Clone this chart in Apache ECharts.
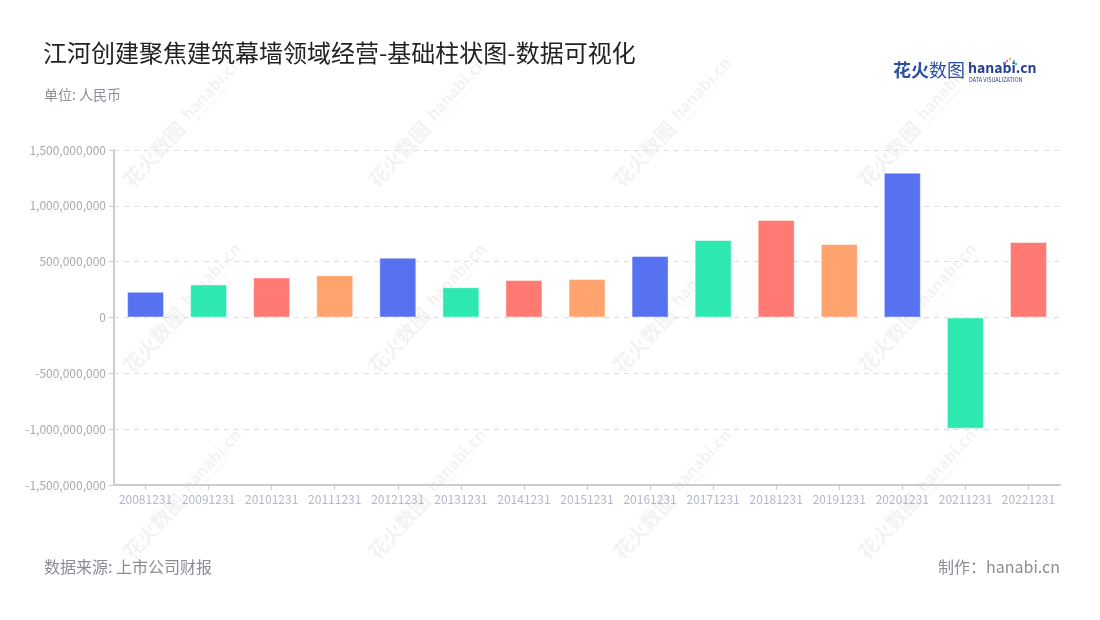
<!DOCTYPE html>
<html>
<head>
<meta charset="utf-8">
<script src="https://cdn.jsdelivr.net/npm/echarts@6/dist/echarts.min.js"></script>
<style>html,body{margin:0;padding:0;background:#fff;}#c{width:1100px;height:620px;}</style>
</head>
<body>
<div id="c"></div>
<script>
const categories = ['20081231','20091231','20101231','20111231','20121231','20131231','20141231','20151231','20161231','20171231','20181231','20191231','20201231','20211231','20221231'];
const values = [230000000, 296000000, 359000000, 379000000, 536000000, 271000000, 335000000, 344000000, 551000000, 694000000, 873000000, 658000000, 1297000000, -996000000, 676000000];
const palette = ['#5672F0', '#2EE8B2', '#FF7A72', '#FFA46F'];
const titleText = '江河创建聚焦建筑幕墙领域经营-基础柱状图-数据可视化';
const unitText = '单位: 人民币';
const sourceText = '数据来源: 上市公司财报';
const makerText = '制作：hanabi.cn';

const FONT = '"Noto Sans CJK SC", "Noto Sans", sans-serif';

function fmt(v) {
  const neg = v < 0;
  let s = Math.abs(v).toString().replace(/\B(?=(\d{3})+(?!\d))/g, ',');
  return (neg ? '-' : '') + s;
}

const WM = 'rgba(0,0,0,0.05)';
const watermarks = [];
const wxs = [184, 429, 674, 919];
const wys = [122, 308, 494];
wxs.forEach(x => wys.forEach(y => {
  watermarks.push({
    type: 'group', x: x, y: y, rotation: Math.PI / 4 * 1.05, z: -10, silent: true,
    children: [
      { type: 'text', x: -84, y: 0, style: { text: '花火数图', fontSize: 20, fontWeight: 'bold', fontFamily: FONT, fill: WM, verticalAlign: 'middle' } },
      { type: 'text', x: 4, y: -3, style: { text: 'hanabi.cn', fontSize: 16, fontWeight: 'bold', fontFamily: FONT, fill: WM, verticalAlign: 'middle' } },
      { type: 'text', x: 6, y: 8, style: { text: 'DATA VISUALIZATION', fontSize: 5, fontFamily: FONT, fill: WM, verticalAlign: 'middle' } }
    ]
  });
}));

const chart = echarts.init(document.getElementById('c'));
chart.setOption({
  backgroundColor: '#fff',
  animation: false,
  title: [
    { text: titleText, left: 43, top: 41, padding: 0, textStyle: { fontSize: 24, fontWeight: 'normal', color: '#222', fontFamily: FONT } },
    { text: unitText, left: 44, top: 88, padding: 0, textStyle: { fontSize: 14, fontWeight: 'normal', color: '#8c8c96', fontFamily: FONT } },
    { text: sourceText, left: 44, top: 559, padding: 0, textStyle: { fontSize: 16, fontWeight: 'normal', color: '#8c8c96', fontFamily: FONT } },
    { text: makerText, right: 40, top: 559, padding: 0, textStyle: { fontSize: 16, fontWeight: 'normal', color: '#8c8c96', fontFamily: FONT } }
  ],
  graphic: watermarks.concat([
    { type: 'text', left: 893, top: 61, style: { text: '花火', fontSize: 18, fontWeight: 'bold', fontFamily: FONT, fill: '#2c4ea3' } },
    { type: 'text', left: 929, top: 61, style: { text: '数图', fontSize: 18, fontWeight: 'normal', fontFamily: FONT, fill: '#2c4ea3' } },
    { type: 'text', left: 968, top: 61, style: { text: 'hanabi.cn', fontSize: 14, fontWeight: 'bold', fontFamily: FONT, fill: '#23408f' } },
    { type: 'text', left: 969, top: 77, style: { text: 'DATA VISUALIZATION', fontSize: 5.5, fontFamily: FONT, fill: '#23408f' } },
    { type: 'circle', shape: { cx: 1007, cy: 61, r: 1.2 }, style: { fill: '#ff6b6b' } },
    { type: 'circle', shape: { cx: 1010, cy: 59, r: 1.2 }, style: { fill: '#ffb347' } },
    { type: 'circle', shape: { cx: 1014, cy: 61, r: 1.2 }, style: { fill: '#4cd6a0' } },
    { type: 'circle', shape: { cx: 1004, cy: 63, r: 1.2 }, style: { fill: '#6a7cf0' } },
    { type: 'circle', shape: { cx: 1016, cy: 64, r: 1.2 }, style: { fill: '#3db6f0' } }
  ]),
  grid: { left: 114, right: 40, top: 150, bottom: 135, containLabel: false },
  xAxis: {
    type: 'category',
    data: categories,
    axisLine: { onZero: false, lineStyle: { color: '#cccccc', width: 2 } },
    axisTick: { show: true, alignWithLabel: true, length: 5, lineStyle: { color: '#cccccc', width: 1 } },
    axisLabel: { color: '#b4b8c6', fontSize: 12, margin: 8, fontFamily: FONT, interval: 0 },
    splitLine: { show: false }
  },
  yAxis: {
    type: 'value',
    min: -1500000000, max: 1500000000, interval: 500000000,
    axisLine: { show: true, lineStyle: { color: '#cccccc', width: 2 } },
    axisTick: { show: true, length: 5, lineStyle: { color: '#cccccc' } },
    axisLabel: { color: '#aaaaaa', fontSize: 12, margin: 8, fontFamily: FONT, formatter: fmt },
    splitLine: { show: true, lineStyle: { color: '#dddddd', type: [5, 5], width: 1 } }
  },
  series: [{
    type: 'bar',
    data: values.map((v, i) => ({ value: v, itemStyle: { color: palette[i % 4] } })),
    barWidth: 37,
    itemStyle: { borderColor: 'rgba(255,255,255,0.45)', borderWidth: 1 },
    z: 5
  }]
});
</script>
</body>
</html>
